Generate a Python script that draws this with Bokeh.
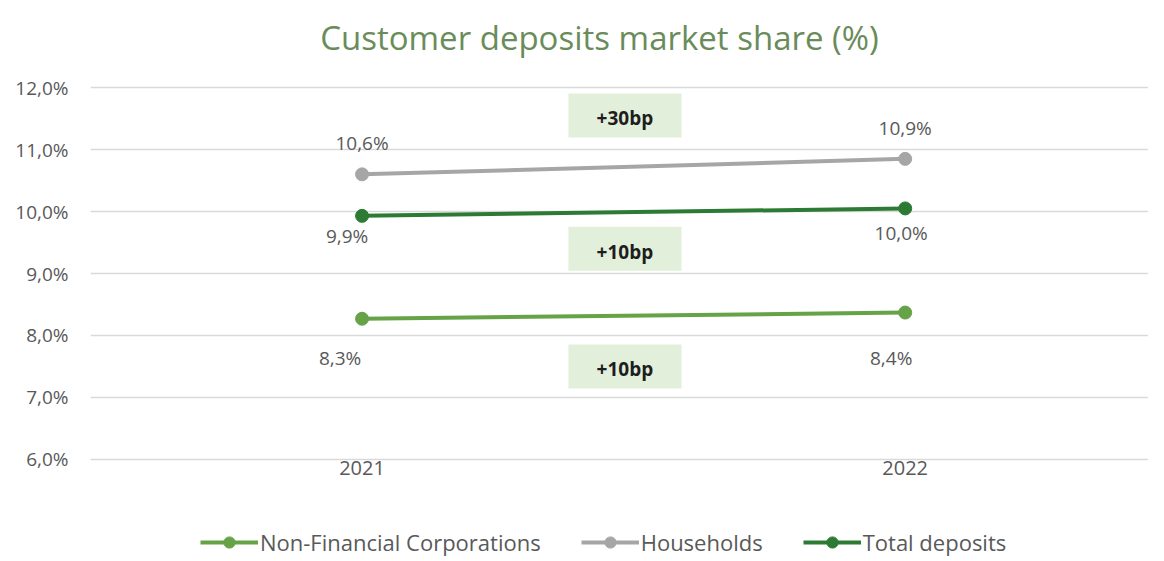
from bokeh.plotting import figure
from bokeh.layouts import column
from bokeh.models import (Range1d, FixedTicker, Legend, LegendItem, Label, ColumnDataSource)
from bokeh.core.properties import value
from bokeh.embed import file_html
from bokeh.resources import INLINE

# ---- data ----
title_text = "Customer deposits market share (%)"
years = ["2021", "2022"]
nfc = [8.27, 8.37]
households = [10.6, 10.85]
total = [9.93, 10.05]
nfc_labels = ["8,3%", "8,4%"]
households_labels = ["10,6%", "10,9%"]
total_labels = ["9,9%", "10,0%"]
delta_labels = ["+30bp", "+10bp", "+10bp"]
y_ticks = [6, 7, 8, 9, 10, 11, 12]
y_tick_labels = ["6,0%", "7,0%", "8,0%", "9,0%", "10,0%", "11,0%", "12,0%"]

# ---- styles / placement ----
delta_y = [11.55, 9.40, 7.50]
hh_lbl_dx = [0, 0]; hh_lbl_dy = [-31, -31]
tot_lbl_dx = [-15, -4]; tot_lbl_dy = [20, 25]
nfc_lbl_dx = [-22, -14]; nfc_lbl_dy = [39, 45]

C_NFC = "#66a246"
C_HH = "#a6a6a6"
C_TOT = "#2c7a33"
C_TXT = "#595959"
FONT = "Open Sans"
W = 1148

xs = list(range(len(years)))

# title strip (column aligns its frame with the main frame, which starts at x=90)
pt = figure(width=W, height=60, output_backend="svg", toolbar_location=None,
            x_range=Range1d(0, 1), y_range=Range1d(0, 1),
            x_axis_location=None, y_axis_location=None,
            min_border_left=0, min_border_right=0, min_border_top=0, min_border_bottom=0)
pt.grid.visible = False
pt.outline_line_color = None
pt.add_layout(Label(x=509, y=23, x_units="screen", y_units="screen", text=title_text,
                    text_align="center", text_baseline="middle", text_font=FONT,
                    text_font_size="33px", text_color="#6a8c5a"))

# main chart
p = figure(width=W, height=440, output_backend="svg", toolbar_location=None,
           x_range=Range1d(-0.5, 1.448), y_range=Range1d(5.95, 12.05),
           min_border_left=90, min_border_right=0, min_border_top=24, min_border_bottom=38)
p.outline_line_color = None
p.background_fill_color = "white"
p.border_fill_color = "white"

p.xaxis.ticker = FixedTicker(ticks=xs)
p.xaxis.major_label_overrides = {i: y for i, y in enumerate(years)}
p.yaxis.ticker = FixedTicker(ticks=y_ticks)
p.yaxis.major_label_overrides = {t: l for t, l in zip(y_ticks, y_tick_labels)}
for ax in (p.xaxis[0], p.yaxis[0]):
    ax.axis_line_color = None
    ax.major_tick_line_color = None
    ax.minor_tick_line_color = None
    ax.major_label_text_font = FONT
    ax.major_label_text_font_size = "19px"
    ax.major_label_text_color = C_TXT
p.xaxis.major_label_standoff = -8
p.xaxis.major_label_text_font_size = "20px"
p.yaxis.major_label_standoff = 16
p.xgrid.grid_line_color = None
p.ygrid.ticker = FixedTicker(ticks=y_ticks)
p.ygrid.grid_line_color = "#d9d9d9"
p.ygrid.grid_line_width = 1.5

# delta boxes
bx = [0.484] * len(delta_labels)
p.rect(x=bx, y=delta_y, width=113, height=44, width_units="screen", height_units="screen",
       fill_color="#e2efda", line_color=None)
p.text(x=bx, y=delta_y, text=delta_labels, text_align="center", text_baseline="middle",
       y_offset=3, text_font=value(FONT), text_font_size="19px", text_font_style="bold",
       text_color="#1e1e1e")

series = [
    ("Non-Financial Corporations", nfc, C_NFC, nfc_labels, nfc_lbl_dx, nfc_lbl_dy),
    ("Households", households, C_HH, households_labels, hh_lbl_dx, hh_lbl_dy),
    ("Total deposits", total, C_TOT, total_labels, tot_lbl_dx, tot_lbl_dy),
]

# legend strip
pl = figure(width=W, height=57, output_backend="svg", toolbar_location=None,
            x_range=Range1d(0, 1), y_range=Range1d(0, 1),
            x_axis_location=None, y_axis_location=None,
            min_border_left=0, min_border_right=0, min_border_top=0, min_border_bottom=0)
pl.grid.visible = False
pl.outline_line_color = None

items = []
for name, vals, col, labels, dx, dy in series:
    src = ColumnDataSource(dict(x=xs, y=vals, lbl=labels, dx=dx, dy=dy))
    p.line("x", "y", source=src, line_color=col, line_width=4)
    p.scatter("x", "y", source=src, size=13, fill_color=col, line_color=col)
    p.text("x", "y", text="lbl", source=src, x_offset="dx", y_offset="dy",
           text_align="center", text_baseline="middle", text_font=value(FONT),
           text_font_size="19px", text_color=C_TXT)
    proxy = ColumnDataSource(dict(x=[-5, -4], y=[-5, -5]))
    ln = pl.line("x", "y", source=proxy, line_color=col, line_width=4)
    sc = pl.scatter("x", "y", source=proxy, size=12, fill_color=col, line_color=col)
    items.append(LegendItem(label=name, renderers=[ln, sc], index=0))

legend = Legend(items=items, orientation="horizontal", location=(110, 0),
                label_text_font=FONT, label_text_font_size="22px", label_text_color=C_TXT,
                glyph_width=58, glyph_height=28, spacing=40, label_standoff=2,
                padding=0, margin=0, border_line_color=None, background_fill_alpha=0)
pl.add_layout(legend)

layout = column(pt, p, pl, spacing=0)
open("out.html", "w").write(file_html(layout, INLINE))
